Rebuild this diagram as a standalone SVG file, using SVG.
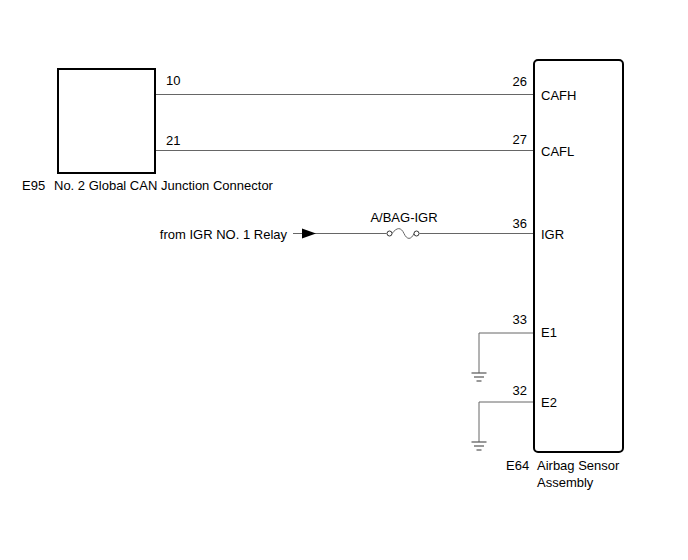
<svg xmlns="http://www.w3.org/2000/svg" width="688" height="560" viewBox="0 0 688 560">
<style>
text{font-family:"Liberation Sans",Arial,sans-serif;font-size:13px;fill:#000}
.r{text-anchor:end}
.w{stroke:#666;stroke-width:1;fill:none}
.box{stroke:#000;stroke-width:2;fill:#fff}
.g{stroke:#555;stroke-width:1.2}
</style>
<rect width="688" height="560" fill="#fff"/>
<g id="connectors">
<line class="w" x1="155" y1="94.5" x2="534" y2="94.5"/>
<line class="w" x1="155" y1="150.5" x2="534" y2="150.5"/>
<line class="w" x1="293" y1="233.5" x2="386.5" y2="233.5"/>
<line class="w" x1="419.5" y1="233.5" x2="534" y2="233.5"/>
<polygon points="302,228.5 316,233.5 302,238.5" fill="#000"/>
<path class="w" d="M392,233.5 C397,227 401,227 404,233.5 S411,240 414,233.5" stroke="#333" stroke-width="1.5"/>
<circle cx="389.5" cy="233.5" r="2.5" fill="#fff" stroke="#333"/>
<circle cx="416.5" cy="233.5" r="2.5" fill="#fff" stroke="#333"/>
<polyline class="w" points="534,333 479,333 479,373"/>
<polyline class="w" points="534,402 479,402 479,442"/>
<g class="g">
<line x1="471.5" y1="373" x2="486.5" y2="373"/>
<line x1="474" y1="377" x2="484" y2="377"/>
<line x1="476.5" y1="381" x2="481.5" y2="381"/>
<line x1="471.5" y1="442" x2="486.5" y2="442"/>
<line x1="474" y1="446" x2="484" y2="446"/>
<line x1="476.5" y1="450" x2="481.5" y2="450"/>
</g>
<text x="404" y="222" text-anchor="middle">A/BAG-IGR</text>
<text x="287" y="239" class="r">from IGR NO. 1 Relay</text>
</g>
<g id="E95">
<rect class="box" x="58" y="69" width="97" height="104"/>
<text x="166" y="85">10</text>
<text x="166" y="145">21</text>
<text x="22" y="190">E95</text>
<text x="54" y="190">No. 2 Global CAN Junction Connector</text>
</g>
<g id="E64">
<rect class="box" x="534" y="60" width="89" height="392" rx="4"/>
<text x="527" y="86" class="r">26</text>
<text x="541" y="100">CAFH</text>
<text x="527" y="144" class="r">27</text>
<text x="541" y="156">CAFL</text>
<text x="527" y="228" class="r">36</text>
<text x="541" y="239">IGR</text>
<text x="527" y="324" class="r">33</text>
<text x="541" y="337">E1</text>
<text x="527" y="395" class="r">32</text>
<text x="541" y="407">E2</text>
<text x="506" y="470">E64</text>
<text x="537" y="470">Airbag Sensor</text>
<text x="537" y="487">Assembly</text>
</g>
</svg>
